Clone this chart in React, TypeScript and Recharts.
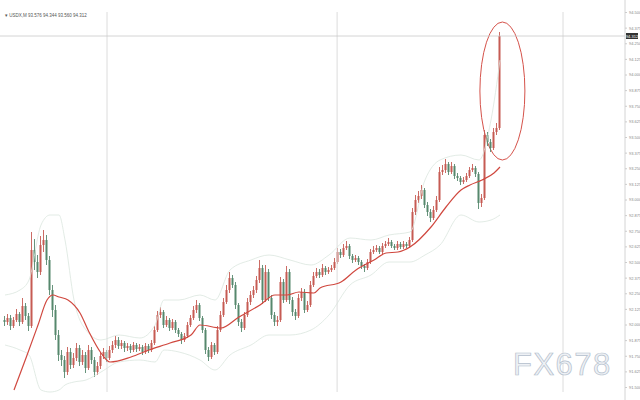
import { ComposedChart, Bar, Line, XAxis, YAxis, ReferenceLine, ReferenceArea } from 'recharts';

// candles: open of each bar is the previous close
const FIRST_OPEN = 92.04;

const CLOSE = [
    92.024, 92.056, 91.992, 92.04, 92.088, 92.024, 92.152, 92.072, 91.992, 92.6,
    92.504, 92.424, 92.64, 92.68, 92.52, 92.28, 92.12, 91.92, 91.76, 91.72,
    91.624, 91.784, 91.68, 91.736, 91.816, 91.704, 91.76, 91.656, 91.8, 91.72,
    91.624, 91.672, 91.752, 91.784, 91.736, 91.8, 91.84, 91.88, 91.832, 91.856,
    91.816, 91.832, 91.8, 91.84, 91.808, 91.824, 91.784, 91.832, 91.8, 91.856,
    91.96, 92.08, 92.104, 92.0, 92.04, 91.976, 92.024, 91.96, 91.928, 91.88,
    91.912, 92.0, 92.056, 92.12, 92.16, 92.056, 91.96, 91.8, 91.744, 91.84,
    91.784, 91.96, 92.08, 92.184, 92.28, 92.376, 92.32, 92.16, 92.024, 91.976,
    92.08, 92.184, 92.24, 92.28, 92.36, 92.456, 92.2, 92.424, 92.216, 92.08,
    92.024, 92.04, 92.344, 92.2, 92.424, 92.2, 92.104, 92.072, 92.216, 92.264,
    92.12, 92.16, 92.32, 92.392, 92.424, 92.4, 92.456, 92.424, 92.44, 92.456,
    92.504, 92.584, 92.56, 92.616, 92.632, 92.552, 92.52, 92.536, 92.504, 92.472,
    92.456, 92.504, 92.584, 92.6, 92.616, 92.584, 92.632, 92.648, 92.664, 92.632,
    92.616, 92.648, 92.624, 92.648, 92.632, 92.68, 92.904, 93.0, 93.032, 93.08,
    92.96, 92.904, 92.856, 92.92, 93.0, 93.224, 93.24, 93.288, 93.224, 93.272,
    93.192, 93.176, 93.144, 93.16, 93.192, 93.24, 93.256, 93.208, 92.976, 93.016,
    93.52, 93.464, 93.416, 93.544, 93.576, 94.312,
];

const HIGH = [
    92.072, 92.088, 92.08, 92.064, 92.128, 92.104, 92.216, 92.176, 92.096, 92.744,
    92.688, 92.56, 92.712, 92.76, 92.72, 92.552, 92.32, 92.16, 91.96, 91.8,
    91.752, 91.824, 91.816, 91.776, 91.856, 91.84, 91.8, 91.784, 91.84, 91.824,
    91.744, 91.704, 91.784, 91.816, 91.8, 91.832, 91.872, 91.912, 91.904, 91.88,
    91.872, 91.856, 91.848, 91.864, 91.856, 91.848, 91.84, 91.856, 91.848, 91.88,
    91.992, 92.112, 92.144, 92.12, 92.072, 92.056, 92.048, 92.04, 91.976, 91.944,
    91.936, 92.024, 92.08, 92.152, 92.2, 92.176, 92.072, 91.976, 91.824, 91.864,
    91.856, 91.992, 92.112, 92.216, 92.32, 92.424, 92.4, 92.344, 92.176, 92.048,
    92.104, 92.216, 92.272, 92.312, 92.392, 92.52, 92.48, 92.48, 92.448, 92.24,
    92.104, 92.072, 92.384, 92.368, 92.472, 92.448, 92.224, 92.128, 92.248, 92.296,
    92.288, 92.192, 92.352, 92.424, 92.456, 92.448, 92.488, 92.472, 92.464, 92.48,
    92.536, 92.616, 92.608, 92.648, 92.672, 92.648, 92.568, 92.56, 92.552, 92.52,
    92.488, 92.528, 92.608, 92.632, 92.64, 92.632, 92.656, 92.672, 92.696, 92.68,
    92.648, 92.672, 92.664, 92.672, 92.664, 92.704, 92.936, 93.04, 93.072, 93.12,
    93.096, 92.984, 92.928, 92.952, 93.032, 93.264, 93.28, 93.328, 93.304, 93.304,
    93.288, 93.216, 93.192, 93.184, 93.216, 93.264, 93.288, 93.272, 93.224, 93.048,
    93.56, 93.544, 93.488, 93.576, 93.616, 94.344,
];

const LOW = [
    91.992, 92.0, 91.96, 91.976, 92.024, 91.992, 92.008, 92.04, 91.952, 91.976,
    92.44, 92.376, 92.4, 92.584, 92.48, 92.24, 92.064, 91.88, 91.712, 91.672,
    91.576, 91.6, 91.648, 91.656, 91.712, 91.672, 91.68, 91.616, 91.64, 91.688,
    91.584, 91.6, 91.648, 91.728, 91.704, 91.72, 91.776, 91.816, 91.808, 91.808,
    91.784, 91.792, 91.776, 91.784, 91.784, 91.792, 91.76, 91.768, 91.776, 91.784,
    91.84, 91.944, 92.056, 91.976, 91.984, 91.952, 91.96, 91.936, 91.904, 91.848,
    91.864, 91.896, 91.984, 92.04, 92.096, 92.032, 91.936, 91.768, 91.712, 91.728,
    91.76, 91.768, 91.944, 92.064, 92.168, 92.256, 92.296, 92.128, 91.992, 91.944,
    91.96, 92.064, 92.16, 92.216, 92.256, 92.336, 92.168, 92.184, 92.192, 92.048,
    91.992, 91.992, 92.024, 92.176, 92.184, 92.168, 92.072, 92.04, 92.056, 92.192,
    92.096, 92.104, 92.144, 92.304, 92.376, 92.376, 92.384, 92.4, 92.408, 92.424,
    92.44, 92.488, 92.536, 92.544, 92.6, 92.528, 92.496, 92.504, 92.48, 92.448,
    92.424, 92.44, 92.488, 92.568, 92.584, 92.568, 92.568, 92.616, 92.632, 92.616,
    92.6, 92.6, 92.608, 92.608, 92.616, 92.616, 92.664, 92.88, 92.976, 93.008,
    92.936, 92.872, 92.824, 92.84, 92.904, 92.984, 93.2, 93.216, 93.2, 93.208,
    93.168, 93.152, 93.12, 93.128, 93.144, 93.176, 93.224, 93.184, 92.928, 92.944,
    93.0, 93.432, 93.384, 93.4, 93.52, 93.56,
];

// moving average (red)
const MA_INDEX = [3, 7, 11, 14, 16, 18, 21, 25, 28, 32, 35, 42, 48, 55, 62, 65, 72, 78, 85, 90, 94, 98, 103, 105, 112, 117, 123, 127, 131, 135, 142, 147, 152, 155, 159, 163, 165];
const MA_VALUE = [91.48, 91.736, 92.0, 92.2, 92.24, 92.224, 92.2, 92.096, 91.944, 91.776, 91.704, 91.744, 91.8, 91.856, 91.92, 92.0, 91.976, 92.064, 92.16, 92.24, 92.24, 92.264, 92.256, 92.296, 92.344, 92.44, 92.52, 92.576, 92.584, 92.624, 92.784, 92.944, 93.08, 93.12, 93.16, 93.216, 93.264];

// bollinger bands (faint)
const BAND_INDEX = [0, 5, 8, 12, 15, 18, 20, 23, 27, 32, 38, 45, 50, 53, 58, 65, 70, 75, 82, 88, 95, 102, 108, 115, 122, 128, 135, 140, 145, 152, 158, 162, 165];
const BAND_UPPER = [92.24, 92.28, 92.36, 92.8, 92.88, 92.88, 92.68, 92.2, 91.96, 91.88, 91.92, 91.896, 92.0, 92.2, 92.2, 92.24, 92.2, 92.44, 92.52, 92.56, 92.52, 92.48, 92.56, 92.696, 92.68, 92.72, 92.744, 93.16, 93.32, 93.36, 93.32, 93.64, 94.12];
const BAND_LOWER = [91.84, 91.8, 91.76, 91.48, 91.464, 91.48, 91.52, 91.544, 91.56, 91.624, 91.704, 91.72, 91.704, 91.8, 91.784, 91.72, 91.64, 91.76, 91.84, 91.92, 91.92, 91.96, 92.08, 92.32, 92.4, 92.504, 92.504, 92.56, 92.64, 92.88, 92.824, 92.84, 92.88];

const Y_TICKS = [
    91.5, 91.625, 91.75, 91.875, 92.0, 92.125, 92.25, 92.375, 92.5, 92.625, 92.75, 92.875, 93.0,
    93.125, 93.25, 93.375, 93.5, 93.625, 93.75, 93.875, 94.0, 94.125, 94.25, 94.375, 94.5,
];
const SESSION_BREAKS = [34, 110.7, 186];

const UP = '#c65b53';
const DOWN = '#56886d';

const candles = CLOSE.map((close, i) => ({
    i,
    open: i === 0 ? FIRST_OPEN : CLOSE[i - 1],
    high: HIGH[i],
    low: LOW[i],
    close,
}));
const maData = MA_INDEX.map((i, k) => ({ i, v: MA_VALUE[k] }));
const upperData = BAND_INDEX.map((i, k) => ({ i, v: BAND_UPPER[k] }));
const lowerData = BAND_INDEX.map((i, k) => ({ i, v: BAND_LOWER[k] }));
const last = candles[candles.length - 1];

function Candle(props: any) {
    const { x, y, width, height, payload } = props;
    const { open, close, high, low } = payload;
    const color = close >= open ? UP : DOWN;
    const k = high - low > 0 ? height / (high - low) : 0;
    const yo = y + (high - open) * k;
    const yc = y + (high - close) * k;
    const cx = x + width / 2;
    return (
        <g>
            <line x1={cx} x2={cx} y1={y} y2={y + height} stroke={color} strokeWidth={0.9} />
            <rect x={x} y={Math.min(yo, yc)} width={width} height={Math.max(1, Math.abs(yo - yc))} fill={color} />
        </g>
    );
}

function PriceTag(props: any) {
    const { viewBox, value } = props;
    if (!viewBox) return null;
    const left = viewBox.x + viewBox.width + 1;
    return (
        <g>
            <rect x={left} y={viewBox.y - 3} width={12} height={6} fill="#333" />
            <text x={left + 6} y={viewBox.y + 1.5} textAnchor="middle" fontSize={4} fill="#fff">{value}</text>
        </g>
    );
}

function Ellipse(props: any) {
    const { x, y, width, height } = props;
    return (
        <ellipse cx={x + width / 2} cy={y + height / 2} rx={width / 2} ry={height / 2}
            fill="none" stroke="#d5524a" strokeWidth={1} />
    );
}

const noDot = { dot: false, activeDot: false, legendType: 'none' as const, isAnimationActive: false };

export default function App() {
    return (
        <div style={{ position: 'absolute', left: 0, top: 0, width: 640, height: 400, background: '#fff', fontFamily: 'Liberation Sans, Arial, sans-serif' }}>
            <ComposedChart width={640} height={400} data={candles} margin={{ top: 0, right: 0, bottom: 0, left: 0 }}>
                <XAxis dataKey="i" type="number" domain={[-5 / 3, 620 / 3]} allowDataOverflow hide />
                <YAxis orientation="right" width={15} domain={[91.4, 94.6]} ticks={Y_TICKS} interval={0}
                    tickFormatter={(v: number) => v.toFixed(3)} tick={{ fontSize: 4, fill: '#888' }}
                    tickSize={2} tickLine={{ stroke: '#ccc' }} axisLine={{ stroke: '#d4d4d4' }} allowDataOverflow />
                {SESSION_BREAKS.map((b) => (
                    <ReferenceLine key={b} segment={[{ x: b, y: 91.464 }, { x: b, y: 94.504 }]} stroke="#dcdcdc" strokeWidth={1} />
                ))}
                <ReferenceLine y={last.close} stroke="#c9c9c9" strokeWidth={0.8}
                    label={<PriceTag value={last.close.toFixed(3)} />} />
                <Line data={upperData} dataKey="v" type="monotone" stroke="#dae6de" strokeWidth={0.8} {...noDot} />
                <Line data={lowerData} dataKey="v" type="monotone" stroke="#dae6de" strokeWidth={0.8} {...noDot} />
                <Bar dataKey={(d: any) => [d.low, d.high]} barSize={2} shape={<Candle />} isAnimationActive={false} />
                <Line data={maData} dataKey="v" type="monotone" stroke="#d0483f" strokeWidth={1.2} {...noDot} />
                <ReferenceArea x1={158.3} x2={173.3} y1={93.32} y2={94.424} shape={<Ellipse />} />
            </ComposedChart>
            <svg width={640} height={400} style={{ position: 'absolute', left: 0, top: 0, pointerEvents: 'none' }}>
                <text x={5} y={17} fontSize={4.5} fill="#555">▾ USDX,M  93.576 94.344 93.560 94.312</text>
                <text x={513} y={375} fontSize={31} letterSpacing={1.5} fill="#eef1f5" stroke="#b4bfcd" strokeWidth={0.7}
                    fontFamily="Liberation Sans, Arial, sans-serif">FX678</text>
            </svg>
        </div>
    );
}
